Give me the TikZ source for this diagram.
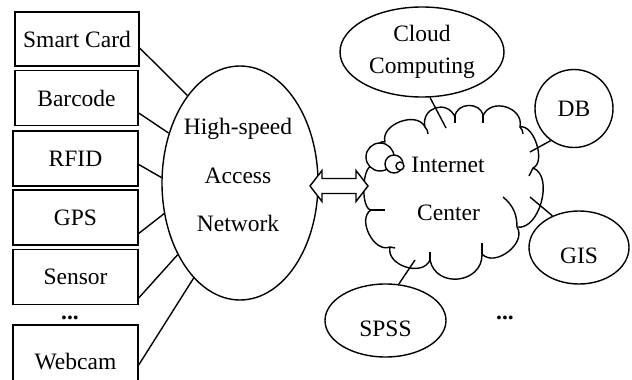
\documentclass[tikz,border=0pt]{standalone}
\usepackage{fontspec}
\setmainfont{Liberation Serif}
\usetikzlibrary{shapes.geometric,calc}
\begin{document}
\begin{tikzpicture}[x=1pt,y=-1pt,line width=1.4pt,
  txt/.style={font=\fontsize{23.5}{28}\selectfont},
  box/.style={draw,rectangle,inner sep=0pt,txt},
  oval/.style={draw,ellipse,inner sep=0pt,txt},
  link/.style={line width=1.4pt},
  puff/.style={bend left=85,looseness=#1},
  cloudline/.style={line width=1.4pt,line join=round}]
\useasboundingbox (0,0) rectangle (632,380);

% left boxes
\node[box,minimum width=124pt,minimum height=54pt] (sc) at (77,39) {Smart Card};
\node[box,minimum width=123pt,minimum height=55pt] (bc) at (76.5,98) {Barcode};
\node[box,minimum width=125pt,minimum height=55pt] (rf) at (75.5,158.5) {RFID};
\node[box,minimum width=125pt,minimum height=55pt] (gp) at (75.5,217.5) {GPS};
\node[box,minimum width=125pt,minimum height=55pt] (se) at (75.5,277) {Sensor};
\node[box,minimum width=125pt,minimum height=74pt] (wc) at (75.5,362) {Webcam};
\node[txt,inner sep=0pt] (ld) at (70,318) {\textbf{...}};

% access network
\node[oval,minimum width=156pt,minimum height=234pt] (acc) at (240,183) {};
\node[txt,inner sep=0pt,align=center,font=\fontsize{23.5}{48.5}\selectfont] (acct) at (238,175) {High-speed\\Access\\Network};

\draw[link] ([yshift=-9pt]sc.east) -- (acc.121.6);
\draw[link] ([yshift=-15pt]bc.east) -- (acc.145);
\draw[link] ([yshift=-6pt]rf.east) -- (acc.176);
\draw[link] ([yshift=-16pt]gp.east) -- (acc.202.6);
\draw[link] ([yshift=-21pt]se.east) -- (acc.229.6);
\draw[link] ([yshift=-3pt]wc.east) -- (acc.244.6);

% cloud
\coordinate (cN) at (385,142);
\coordinate (cA) at (425,127);
\coordinate (cB) at (455,117);
\coordinate (cC) at (483,116);
\coordinate (cD) at (520,127);
\coordinate (cE) at (533,168);
\coordinate (cG) at (517,227);
\coordinate (cH) at (482,254);
\coordinate (cI) at (430,260);
\coordinate (cJ) at (390,247);
\coordinate (cK) at (371,210);
\coordinate (cL) at (372,166);
\draw[cloudline,fill=white] (cN) to[puff=1.1] (cA) to[puff=1.6] (cB) to[puff=1.35] (cC)
  to[puff=1.35] (cD) to[puff=0.85] (cE) to[puff=0.95] (cG) to[puff=1.1] (cH)
  to[puff=1.45] (cI) to[puff=1.15] (cJ) to[puff=1.05] (cK) to[puff=0.6] (cL)
  to[puff=0.8] (cN) -- cycle;
% inner ticks of the cloud
\draw[cloudline] (cA) to[bend left=20] ++(3,7);
\draw[cloudline] (cB) -- ++(0,6);
\draw[cloudline] (cC) -- ++(0,7);
\draw[cloudline] (cD) to[bend left=20] ++(3,7);
\draw[cloudline] (cE) -- ++(-4,8);
\draw[cloudline] (503,197) to[bend left=25] (cG);
\draw[cloudline] (cH) -- ++(0,-11);
\draw[cloudline] (cI) -- ++(0,-8);
\draw[cloudline] (cJ) -- ++(5,1);
\draw[cloudline] (cK) -- ++(14,0);
% thought bubbles
\node[draw,circle,fill=white,minimum size=28pt,inner sep=0pt] (b1) at (380,157) {};
\node[draw,circle,fill=white,minimum size=18pt,inner sep=0pt] (b2) at (394,164) {};
\node[draw,circle,fill=white,minimum size=8pt,inner sep=0pt] (b3) at (400,166) {};
\node[txt,inner sep=0pt] (inet) at (448,165) {Internet};
\node[txt,inner sep=0pt] (cent) at (448.5,213) {Center};

% double arrow
\coordinate (arL) at (310,186);
\coordinate (arR) at (368,186);
\draw[fill=white,line join=miter] (arL) -- ++(12,-15.5) -- ++(0,8) -- ($(arR)+(-12,-7.5)$) -- ++(0,-8) -- (arR)
  -- ++(-12,15.5) -- ++(0,-8) -- ($(arL)+(12,7.5)$) -- ++(0,8) -- cycle;

% satellites
\node[oval,minimum width=164pt,minimum height=90pt,align=center,font=\fontsize{23.5}{32}\selectfont] (cc) at (422,52) {Cloud\\Computing};
\node[draw,circle,inner sep=0pt,minimum size=78pt,txt] (db) at (574,108.5) {DB};
\node[oval,minimum width=100pt,minimum height=73pt,text height=31.6pt,text depth=0pt] (gis) at (579,247.5) {GIS};
\node[oval,minimum width=121pt,minimum height=73pt,text height=31.6pt,text depth=0pt] (spss) at (385.5,320.5) {SPSS};
\node[txt,inner sep=0pt] (rd) at (505,318) {\textbf{...}};

\coordinate (ccend) at (446,128);
\coordinate (dbend) at (530,152);
\coordinate (gisend) at (530,197);
\coordinate (spssend) at (415,260);
\draw[link] (cc.-80) -- (ccend);
\draw[link] (db.234) -- (dbend);
\draw[link] (gis.130) -- (gisend);
\draw[link] (spss.70) -- (spssend);
\end{tikzpicture}
\end{document}
